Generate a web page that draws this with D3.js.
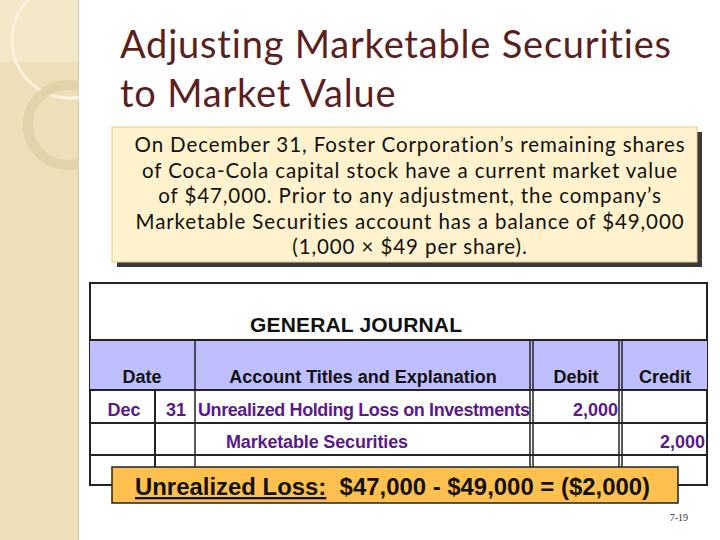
<!DOCTYPE html>
<html><head><meta charset="utf-8">
<script src="https://cdn.jsdelivr.net/npm/d3@7"></script>
<style>body{margin:0;background:#fff}</style></head>
<body><script>
const titleLines = ["Adjusting Marketable Securities", "to Market Value"];
const introLines = ["On December 31, Foster Corporation’s remaining shares",
  "of Coca-Cola capital stock have a current market value",
  "of $47,000.  Prior to any adjustment, the company’s",
  "Marketable Securities account has a balance of $49,000",
  "(1,000 × $49 per share)."];
const headers = ["Date", "Account Titles and Explanation", "Debit", "Credit"];
const rowMonth = ["Dec", ""];
const rowDay = ["31", ""];
const rowAccount = ["Unrealized Holding Loss on Investments", "Marketable Securities"];
const rowDebit = ["2,000", ""];
const rowCredit = ["", "2,000"];
const noteLabel = "Unrealized Loss:";
const noteText = "  $47,000 - $49,000 = ($2,000)";

const svg = d3.select("body").append("svg").attr("width", 720).attr("height", 540);
svg.append("rect").attr("x",0).attr("y",0).attr("width",78).attr("height",540).attr("fill","#EEDFB8");
svg.append("rect").attr("x",0).attr("y",0).attr("width",78).attr("height",62).attr("fill","#F3E8C8");
svg.append("line").attr("x1",78.5).attr("x2",78.5).attr("y1",0).attr("y2",540).attr("stroke","#d8c89a");
svg.append("circle").attr("cx",70).attr("cy",40).attr("r",58).attr("fill","none").attr("stroke","#FBF3DE").attr("stroke-width",3);
svg.append("circle").attr("cx",68).attr("cy",125).attr("r",40).attr("fill","none").attr("stroke","#E2D3AA").attr("stroke-width",10);
svg.append("rect").attr("x",79).attr("y",0).attr("width",641).attr("height",540).attr("fill","#fff");

const font = "'Lato','Open Sans',sans-serif";
svg.selectAll("text.title").data(titleLines).join("text")
  .attr("x",120).attr("y",(d,i)=>58+i*49).attr("font-family",font).attr("font-size",38)
  .attr("letter-spacing",0.8).attr("fill","#5A1F1F").text(d=>d);

svg.append("rect").attr("x",117).attr("y",132).attr("width",585).attr("height",135).attr("fill","#3a3a3a");
svg.append("rect").attr("x",112).attr("y",127).attr("width",585).attr("height",135).attr("fill","#FFF2CC").attr("stroke","#E8C98A");
svg.selectAll("text.intro").data(introLines).join("text")
  .attr("x",410).attr("y",(d,i)=>152+i*25.5).attr("text-anchor","middle")
  .attr("font-family",font).attr("font-size",20.5).attr("letter-spacing",0.9).attr("fill","#111").text(d=>d);

const g = svg.append("g").attr("font-family","'Liberation Sans Narrow','Liberation Sans',Arial,sans-serif").attr("font-weight","bold");
g.append("rect").attr("x",90).attr("y",283).attr("width",617).attr("height",202).attr("fill","#fff").attr("stroke","#222").attr("stroke-width",2);
g.append("text").attr("x",356).attr("y",332).attr("text-anchor","middle").attr("font-size",21).attr("textLength",212).attr("fill","#111").text("GENERAL JOURNAL");
const hy0 = 340, hy1 = 390;
g.append("rect").attr("x",90).attr("y",hy0).attr("width",617).attr("height",hy1-hy0).attr("fill","#BFBFFF");
const rowY = [390, 423, 455, 485];
[hy0, ...rowY.slice(0,3)].forEach(v=>g.append("line").attr("x1",90).attr("x2",707).attr("y1",v).attr("y2",v).attr("stroke","#222").attr("stroke-width",2));
g.append("line").attr("x1",155).attr("x2",155).attr("y1",390).attr("y2",485).attr("stroke","#222").attr("stroke-width",2);
[195,530,533,619,622].forEach(v=>g.append("line").attr("x1",v).attr("x2",v).attr("y1",hy0).attr("y2",485).attr("stroke","#222").attr("stroke-width",1.5));
const hx = [142, 363, 576, 665];
g.selectAll("text.h").data(headers).join("text").attr("x",(d,i)=>hx[i]).attr("y",383)
  .attr("text-anchor","middle").attr("font-size",18).attr("fill","#111").text(d=>d);
const purple = "#5B1A8C";
const rowBase = [416, 448];
rowMonth.forEach((d,i)=>g.append("text").attr("x",124).attr("y",rowBase[i]).attr("text-anchor","middle").attr("font-size",18).attr("fill",purple).text(d));
rowDay.forEach((d,i)=>g.append("text").attr("x",176).attr("y",rowBase[i]).attr("text-anchor","middle").attr("font-size",18).attr("fill",purple).text(d));
rowAccount.forEach((d,i)=>g.append("text").attr("x",i===0?198:226).attr("y",rowBase[i]).attr("font-size",18).attr("fill",purple)
  .attr("textLength",i===0?332:182).text(d));
rowDebit.forEach((d,i)=>g.append("text").attr("x",618).attr("y",rowBase[i]).attr("text-anchor","end").attr("font-size",18).attr("fill",purple).text(d));
rowCredit.forEach((d,i)=>g.append("text").attr("x",705).attr("y",rowBase[i]).attr("text-anchor","end").attr("font-size",18).attr("fill",purple).text(d));

svg.append("rect").attr("x",112).attr("y",467).attr("width",566).attr("height",36).attr("fill","#FFC04F").attr("stroke","#222").attr("stroke-width",1.5);
const nt = svg.append("text").attr("x",135).attr("y",495)
  .attr("font-family","'Liberation Sans Narrow','Liberation Sans',Arial,sans-serif").attr("font-weight","bold").attr("font-size",23).attr("fill","#111")
  .attr("textLength",515).attr("lengthAdjust","spacingAndGlyphs");
nt.append("tspan").attr("text-decoration","underline").text(noteLabel);
nt.append("tspan").style("white-space","pre").text(noteText);

svg.append("text").attr("x",688).attr("y",521).attr("text-anchor","end").attr("font-family","'Liberation Serif',serif").attr("font-size",10).attr("fill","#333").text("7-19");
</script></body></html>
